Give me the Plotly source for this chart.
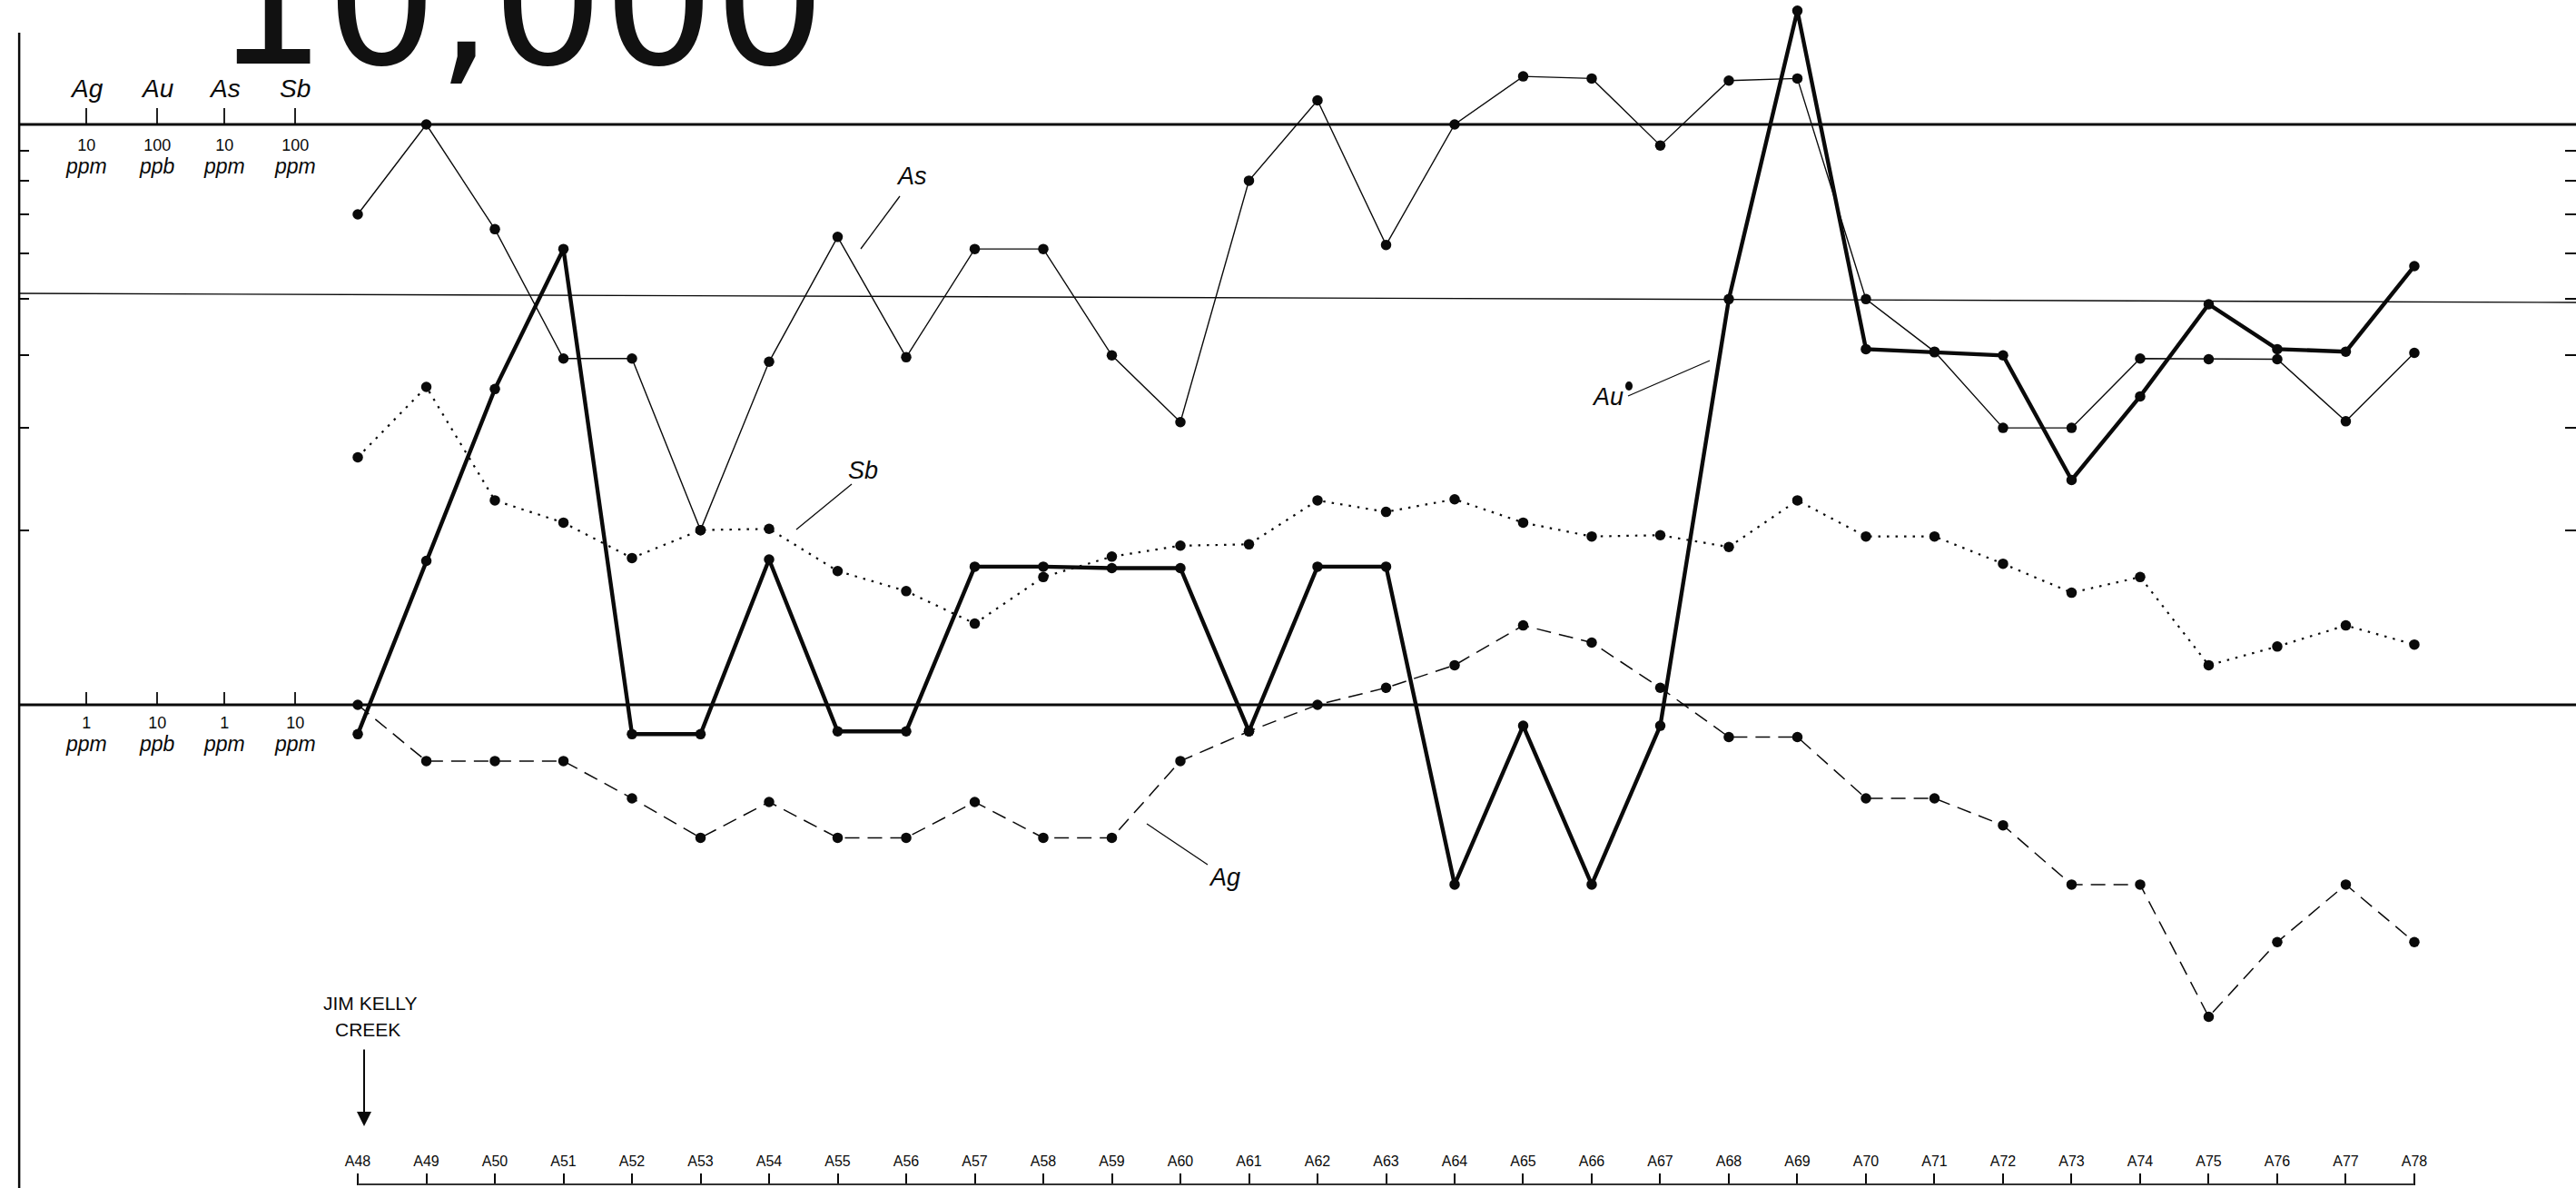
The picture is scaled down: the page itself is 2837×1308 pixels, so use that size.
import numpy as np
import plotly.graph_objects as go

# ---------------- data ----------------
samples = ["A48", "A49", "A50", "A51", "A52", "A53", "A54", "A55", "A56", "A57", "A58",
           "A59", "A60", "A61", "A62", "A63", "A64", "A65", "A66", "A67", "A68", "A69",
           "A70", "A71", "A72", "A73", "A74", "A75", "A76", "A77", "A78"]

ag_ppm = [1.0, 0.80, 0.80, 0.80, 0.69, 0.59, 0.68, 0.59, 0.59, 0.68, 0.59, 0.59, 0.80, 0.90,
          1.0, 1.07, 1.17, 1.37, 1.28, 1.07, 0.88, 0.88, 0.69, 0.69, 0.62, 0.49, 0.49, 0.29,
          0.39, 0.49, 0.39]
au_ppb = [8.9, 17.7, 35, 61, 8.9, 8.9, 17.8, 9.0, 9.0, 17.3, 17.3, 17.2, 17.2, 9.0, 17.3,
          17.3, 4.9, 9.2, 4.9, 9.2, 50, 157, 41, 40.5, 40, 24.4, 34, 49, 41, 40.6, 57]
as_ppm = [7.0, 10.0, 6.6, 3.95, 3.95, 2.0, 3.9, 6.4, 3.97, 6.1, 6.1, 4.0, 3.07, 8.0, 11.0,
          6.2, 10.0, 12.1, 12.0, 9.2, 11.9, 12.0, 5.0, 4.06, 3.0, 3.0, 3.95, 3.94, 3.94,
          3.08, 4.04]
sb_ppm = [26.7, 35.3, 22.5, 20.6, 17.9, 20.0, 20.1, 17.0, 15.7, 13.8, 16.6, 18.0, 18.8, 18.9,
          22.5, 21.5, 22.6, 20.6, 19.5, 19.6, 18.7, 22.5, 19.5, 19.5, 17.5, 15.6, 16.6, 11.7,
          12.6, 13.7, 12.7]

# scale bases (value at the lower reference line) for each element
elements = ["Ag", "Au", "As", "Sb"]
scale_low = ["1", "10", "1", "10"]
scale_high = ["10", "100", "10", "100"]
scale_units = ["ppm", "ppb", "ppm", "ppm"]
base = {"Ag": 1.0, "Au": 10.0, "As": 1.0, "Sb": 10.0}

# ---------------- geometry ----------------
W, H = 2837, 1308
ML, MB = 20, 3
PW, PH = W - ML, H - MB
YMIN, YMAX = -0.8279, 1.2144          # log10 range of the normalised axis
XMIN, XMAX = -4.954, 32.358            # category-index range


def px_x(px):
    return (px - ML) / PW


def px_y(py):
    return (PH - py) / PH


def log_y(v):
    return (np.log10(v) - YMIN) / (YMAX - YMIN)


INK = "#0a0a0a"
SANS = "Liberation Sans, DejaVu Sans, sans-serif"
ITAL = "Liberation Sans, DejaVu Sans, sans-serif"

fig = go.Figure()

series = [
    ("Ag", ag_ppm, dict(color=INK, width=1.5, dash="16px,9px")),
    ("Sb", sb_ppm, dict(color=INK, width=2.2, dash="2.5px,7px")),
    ("As", as_ppm, dict(color=INK, width=1.4)),
    ("Au", au_ppb, dict(color=INK, width=4.4)),
]
for name, vals, line in series:
    fig.add_trace(go.Scatter(
        x=samples,
        y=[v / base[name] for v in vals],
        mode="lines+markers",
        name=name,
        line=line,
        marker=dict(color=INK, size=11.5, line=dict(width=0)),
        showlegend=False,
    ))

# secondary y axis only for the right-hand tick marks
fig.add_trace(go.Scatter(x=[samples[0]], y=[1], yaxis="y2", mode="markers",
                         marker=dict(size=0.1, opacity=0), showlegend=False,
                         hoverinfo="skip"))

shapes = []
# horizontal reference lines (10, threshold, 1 on normalised scale)
shapes.append(dict(type="line", xref="paper", yref="paper", x0=0, x1=1,
                   y0=log_y(10), y1=log_y(10), line=dict(color=INK, width=3)))
shapes.append(dict(type="line", xref="paper", yref="paper", x0=0, x1=1,
                   y0=px_y(323), y1=px_y(333), line=dict(color=INK, width=1.4)))
shapes.append(dict(type="line", xref="paper", yref="paper", x0=0, x1=1,
                   y0=log_y(1), y1=log_y(1), line=dict(color=INK, width=3)))
# left vertical axis line
shapes.append(dict(type="line", xref="paper", yref="paper", x0=0.0004, x1=0.0004,
                   y0=px_y(36), y1=-0.01, line=dict(color=INK, width=2.5)))
# bottom sample-axis line
shapes.append(dict(type="line", xref="x", yref="paper", x0=0, x1=len(samples) - 1,
                   y0=0.0008, y1=0.0008, line=dict(color="#333", width=2)))

annotations = []
# big partially cut heading
annotations.append(dict(text="10,000", xref="paper", yref="paper", x=px_x(573), y=px_y(3),
                        xanchor="center", yanchor="middle", showarrow=False,
                        font=dict(family="DejaVu Sans", size=192, color="#111")))


def scale_text(num, unit):
    return (f"<span style='font-size:18px'>{num}</span><br>"
            f"<span style='font-size:23px'><i>{unit}</i></span>")


# scale labels at left
col_x = [95, 173, 247, 325]
for i, el in enumerate(elements):
    cx = col_x[i]
    annotations.append(dict(text=el, xref="paper", yref="paper", x=px_x(cx), y=px_y(97),
                            xanchor="center", yanchor="middle", showarrow=False,
                            font=dict(family=ITAL, size=28, color=INK, style="italic")))
    annotations.append(dict(text=scale_text(scale_high[i], scale_units[i]), xref="paper",
                            yref="paper", x=px_x(cx), y=px_y(173), xanchor="center",
                            yanchor="middle", showarrow=False,
                            font=dict(family=SANS, size=19.3, color=INK)))
    annotations.append(dict(text=scale_text(scale_low[i], scale_units[i]), xref="paper",
                            yref="paper", x=px_x(cx), y=px_y(809), xanchor="center",
                            yanchor="middle", showarrow=False,
                            font=dict(family=SANS, size=19.3, color=INK)))
    shapes.append(dict(type="line", xref="paper", yref="paper", x0=px_x(cx), x1=px_x(cx),
                       y0=px_y(119), y1=px_y(136), line=dict(color=INK, width=1.8)))
    shapes.append(dict(type="line", xref="paper", yref="paper", x0=px_x(cx), x1=px_x(cx),
                       y0=px_y(762), y1=px_y(776), line=dict(color=INK, width=1.8)))

# series labels with leader lines
labels = [("As", 1004, 194, (991, 216, 948, 274)),
          ("Sb", 950, 518, (938, 533, 877, 583)),
          ("Ag", 1348, 966, (1330, 952, 1263, 907)),
          ("Au", 1770, 437, (1793, 436, 1883, 397))]
for txt, lx, ly, (a, b, c, d) in labels:
    annotations.append(dict(text=txt, xref="paper", yref="paper", x=px_x(lx), y=px_y(ly),
                            xanchor="center", yanchor="middle", showarrow=False,
                            font=dict(family=ITAL, size=27, color=INK, style="italic")))
    shapes.append(dict(type="line", xref="paper", yref="paper", x0=px_x(a), y0=px_y(b),
                       x1=px_x(c), y1=px_y(d), line=dict(color=INK, width=1.3)))
# small speck next to the Au label
shapes.append(dict(type="circle", xref="paper", yref="paper", x0=px_x(1790), x1=px_x(1798),
                   y0=px_y(420), y1=px_y(430), fillcolor=INK, line=dict(width=0)))

# Jim Kelly Creek marker
annotations.append(dict(text="JIM KELLY", xref="paper", yref="paper", x=px_x(408), y=px_y(1104),
                        xanchor="center", yanchor="middle", showarrow=False,
                        font=dict(family=SANS, size=21, color=INK)))
annotations.append(dict(text="CREEK", xref="paper", yref="paper", x=px_x(405), y=px_y(1133),
                        xanchor="center", yanchor="middle", showarrow=False,
                        font=dict(family=SANS, size=21, color=INK)))
annotations.append(dict(text="", xref="paper", yref="paper", x=px_x(401), y=px_y(1240),
                        ax=0, ay=-86, axref="pixel", ayref="pixel", showarrow=True,
                        arrowhead=2, arrowsize=1.6, arrowwidth=2, arrowcolor=INK))

log_ticks = [2, 3, 4, 5, 6, 7, 8, 9]

fig.update_layout(
    width=W, height=H,
    margin=dict(l=ML, r=0, t=0, b=MB, pad=0),
    paper_bgcolor="white", plot_bgcolor="white",
    showlegend=False,
    xaxis=dict(type="category", range=[XMIN, XMAX], showgrid=False, zeroline=False,
               showline=False, ticks="inside", ticklen=13, tickwidth=1.6, tickcolor=INK,
               ticklabelposition="inside", ticklabelstandoff=5,
               tickfont=dict(family=SANS, size=16, color=INK),
               automargin=False, fixedrange=True),
    yaxis=dict(type="log", range=[YMIN, YMAX], showgrid=False, zeroline=False,
               showline=False, ticks="inside", ticklen=12, tickwidth=2, tickcolor=INK,
               tickvals=log_ticks, showticklabels=False, automargin=False),
    yaxis2=dict(type="log", range=[YMIN, YMAX], overlaying="y", side="right",
                showgrid=False, zeroline=False, showline=False, ticks="inside", ticklen=12,
                tickwidth=2, tickcolor=INK, tickvals=log_ticks, showticklabels=False,
                automargin=False),
    shapes=shapes,
    annotations=annotations,
)

fig.write_html(
    "out.html",
    config={"displayModeBar": False},
    post_script="document.body.style.margin='0px';"
                "document.documentElement.style.overflow='hidden';"
                "document.body.style.overflow='hidden';",
)
